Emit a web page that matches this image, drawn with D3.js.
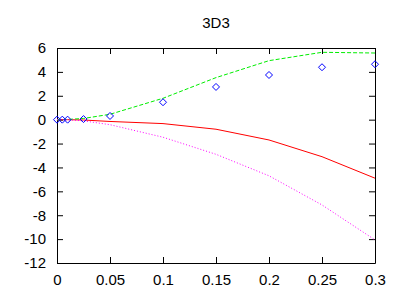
<!DOCTYPE html>
<html><head><meta charset="utf-8">
<script src="https://cdn.jsdelivr.net/npm/d3@7"></script>
<style>body{margin:0;background:#fff}svg{display:block}text{font-family:"Liberation Sans",Arial,sans-serif;fill:#000}</style>
</head><body><svg id="c" width="402" height="296"></svg>
<script>
const title = "3D3";
const xs = [0, 0.005, 0.01, 0.025, 0.05, 0.1, 0.15, 0.2, 0.25, 0.3];
const pointsY = [0, 0, 0, 0.05, 0.31, 1.46, 2.74, 3.74, 4.39, 4.64];
const greenY = [0, 0, 0.02, 0.1, 0.45, 1.79, 3.52, 4.94, 5.64, 5.58];
const redY = [0, 0, 0, -0.03, -0.15, -0.33, -0.8, -1.7, -3.1, -4.9];
const magentaY = [0, 0, -0.01, -0.1, -0.42, -1.47, -2.9, -4.7, -7.14, -10.07];
const xTicks = [0, 0.05, 0.1, 0.15, 0.2, 0.25, 0.3];
const yTicks = [-12, -10, -8, -6, -4, -2, 0, 2, 4, 6];

const svg = d3.select("#c");
const L = 57, R = 375, T = 48, B = 263;
const x = d3.scaleLinear().domain([0, 0.3]).range([L, R]);
const y = d3.scaleLinear().domain([-12, 6]).range([B, T]);
const fmt = d => String(d);
const fs = 15;

svg.append("text").attr("x", (L + R) / 2).attr("y", 28).attr("text-anchor", "middle")
  .attr("font-size", fs).text(title);

const tl = 6;
const ax = [
  d3.axisBottom(x).tickValues(xTicks).tickFormat(fmt).tickSizeInner(-tl).tickSizeOuter(0).tickPadding(11),
  d3.axisTop(x).tickValues(xTicks).tickFormat("").tickSizeInner(-tl).tickSizeOuter(0),
  d3.axisLeft(y).tickValues(yTicks).tickFormat(fmt).tickSizeInner(-tl).tickSizeOuter(0).tickPadding(11),
  d3.axisRight(y).tickValues(yTicks).tickFormat("").tickSizeInner(-tl).tickSizeOuter(0)
];
const pos = [`translate(0,${B})`, `translate(0,${T})`, `translate(${L},0)`, `translate(${R},0)`];
ax.forEach((a, i) => {
  const g = svg.append("g").attr("transform", pos[i]).call(a);
  g.selectAll("text").attr("font-size", fs).attr("fill", "#000").style("font-family", "Liberation Sans, Arial, sans-serif");
  g.selectAll("line").attr("stroke", "#000");
  g.select(".domain").attr("stroke", "#000");
});

const line = d3.line().x((d, i) => x(xs[i])).y(d => y(d));
svg.append("path").datum(redY).attr("d", line).attr("fill", "none").attr("stroke", "#ff0000").attr("stroke-width", 1);
svg.append("path").datum(greenY).attr("d", line).attr("fill", "none").attr("stroke", "#00ee00").attr("stroke-width", 1).attr("stroke-dasharray", "4,2");
svg.append("path").datum(magentaY).attr("d", line).attr("fill", "none").attr("stroke", "#ff00ff").attr("stroke-width", 1).attr("stroke-dasharray", "1,2");

const s = 3.5;
svg.append("g").selectAll("path").data(pointsY).join("path")
  .attr("d", (d, i) => { const cx = x(xs[i]), cy = y(d); return `M${cx},${cy - s}L${cx + s},${cy}L${cx},${cy + s}L${cx - s},${cy}Z`; })
  .attr("fill", "none").attr("stroke", "#0000ff").attr("stroke-width", 1);
</script></body></html>
